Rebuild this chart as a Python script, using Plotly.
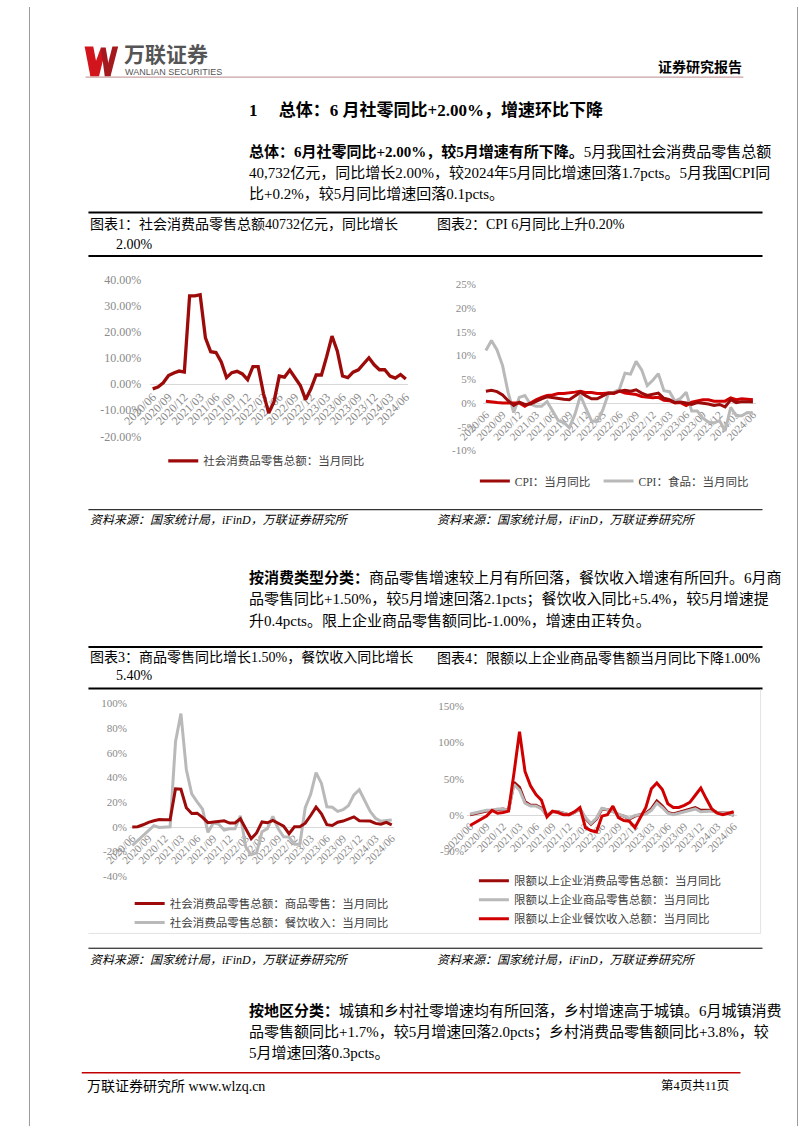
import plotly.graph_objects as go

W, H = 802, 1133
def px(x): return x / W
def py(y): return 1 - y / H

# ---------------- data ----------------
months = ["2020/06","2020/07","2020/08","2020/09","2020/10","2020/11","2020/12",
          "2021/01","2021/02","2021/03","2021/04","2021/05","2021/06","2021/07","2021/08","2021/09","2021/10","2021/11","2021/12",
          "2022/01","2022/02","2022/03","2022/04","2022/05","2022/06","2022/07","2022/08","2022/09","2022/10","2022/11","2022/12",
          "2023/01","2023/02","2023/03","2023/04","2023/05","2023/06","2023/07","2023/08","2023/09","2023/10","2023/11","2023/12",
          "2024/01","2024/02","2024/03","2024/04","2024/05","2024/06"]
tick_months = ["2020/06","2020/09","2020/12","2021/03","2021/06","2021/09","2021/12","2022/03","2022/06",
               "2022/09","2022/12","2023/03","2023/06","2023/09","2023/12","2024/03","2024/06"]

retail_total = [-1.8, -1.1, 0.5, 3.3, 4.3, 5.0, 4.6,
                33.8, 33.8, 34.2, 17.7, 12.4, 12.1, 8.5, 2.5, 4.4, 4.9, 3.9, 1.7,
                6.7, 6.7, -3.5, -11.1, -6.7, 3.1, 2.7, 5.4, 2.5, -0.5, -5.9, -1.8,
                3.5, 3.5, 10.6, 18.4, 12.7, 3.1, 2.5, 4.6, 5.5, 7.6, 10.1, 7.4,
                5.5, 5.5, 3.1, 2.3, 3.7, 2.0]

cpi_all = [2.5, 2.7, 2.4, 1.7, 0.5, -0.5, 0.2,
           -0.3, -0.2, 0.4, 0.9, 1.3, 1.1, 1.0, 0.8, 0.7, 1.5, 2.3, 1.5,
           0.9, 0.9, 1.5, 2.1, 2.1, 2.5, 2.7, 2.5, 2.8, 2.1, 1.6, 1.8,
           2.1, 1.0, 0.7, 0.1, 0.2, 0.0, -0.3, 0.1, 0.0, -0.2, -0.5, -0.3,
           -0.8, 0.7, 0.1, 0.3, 0.3, 0.2]
cpi_food = [11.1, 13.2, 11.2, 7.9, 2.2, -2.0, 1.2,
            1.6, -0.2, -0.7, -0.7, 0.3, -1.7, -3.7, -4.1, -5.2, -2.4, 1.6, -1.2,
            -3.8, -3.9, -1.5, 1.9, 2.3, 2.9, 6.3, 6.1, 8.8, 7.0, 3.7, 4.8,
            6.2, 2.6, 2.4, 0.4, 1.0, 2.3, -1.7, -1.7, -3.2, -4.0, -4.2, -3.7,
            -5.9, -0.9, -2.7, -2.7, -2.0, -2.1]
cpi_nonfood = [0.4, 0.2, 0.1, 0.0, 0.0, 0.0, 0.0,
               -0.7, 0.0, 0.7, 1.2, 1.6, 1.7, 2.0, 2.0, 2.1, 2.3, 2.5, 2.2,
               2.2, 2.0, 2.0, 2.1, 2.0, 2.5, 2.1, 2.0, 1.8, 1.4, 1.2, 1.1,
               1.2, 0.6, 0.5, 0.0, 0.1, -0.5, 0.2, 0.5, 0.7, 0.7, 0.4, 0.4,
               0.4, 1.1, 0.7, 0.9, 0.8, 0.7]

goods_retail = [-0.2, 0.0, 1.6, 3.6, 4.8, 5.8, 5.6,
                5.6, 30.7, 30.4, 15.4, 10.8, 11.0, 7.6, 3.3, 4.0, 4.6, 4.8, 3.0,
                3.0, 6.5, -1.7, -9.7, -5.0, 3.9, 3.2, 5.1, 2.8, 0.5, -5.6, 0.0,
                0.0, 2.9, 9.1, 15.9, 10.5, 1.7, 1.0, 3.7, 4.6, 6.5, 8.0, 4.8,
                4.7, 4.6, 2.7, 2.0, 3.6, 1.5]
catering = [-15.2, -11.0, -7.0, -2.9, 0.8, -0.6, 0.0,
            0.0, 68.9, 91.6, 46.4, 26.6, 20.2, 14.3, -4.5, 3.1, 2.0, -2.7, -1.6,
            -1.6, 8.9, -16.4, -22.7, -21.1, -4.0, -1.5, 8.4, -1.7, -8.1, -8.4, -14.1,
            -14.1, 15.4, 26.3, 43.8, 35.1, 16.1, 15.8, 12.4, 13.8, 17.1, 25.8, 30.0,
            21.0, 12.5, 6.9, 4.4, 5.0, 5.4]

above_total = [0, 2, 4, 5, 6, 7, 8,
               6, 45, 38, 18, 13, 13, 9, -1, 4, 4, 2, 0,
               3, 8, -5, -13, -6, 8, 7, 5, 0, -2, -6, -2,
               0, 2, 8, 19, 12, 3, 1, 3, 5, 8, 10, 6,
               6, 6, 3, 2, 2, -1]
above_goods = [1, 3, 5, 6, 6, 8, 8,
               6, 42, 34, 16, 12, 12, 8, 0, 4, 4, 2, 0,
               3, 8, -4, -12, -5, 9, 7, 4, 1, -1, -5, -1,
               0, 1, 6, 16, 10, 2, 0, 2, 4, 7, 8, 4,
               5, 5, 3, 2, 2, -1]
above_catering = [-15, -11, -6, -2, 6, 2, 3,
                  5, 58, 115, 60, 40, 28, 20, -3, 5, 3, 0, 0,
                  4, 10, -18, -22, -24, -2, 0, 12, -4, -8, -9, -18,
                  -5, 10, 36, 44, 35, 15, 10, 10, 13, 17, 27, 37,
                  22, 8, 2, 0, 2, 4]

y1_vals = [-20, -10, 0, 10, 20, 30, 40]
y1_text = ["-20.00%", "-10.00%", "0.00%", "10.00%", "20.00%", "30.00%", "40.00%"]
y2_vals = [-10, -5, 0, 5, 10, 15, 20, 25]
y2_text = ["-10%", "-5%", "0%", "5%", "10%", "15%", "20%", "25%"]
y3_vals = [-40, -20, 0, 20, 40, 60, 80, 100]
y3_text = ["-40%", "-20%", "0%", "20%", "40%", "60%", "80%", "100%"]
y4_vals = [-50, 0, 50, 100, 150]
y4_text = ["-50%", "0%", "50%", "100%", "150%"]

# ---------------- styles ----------------
DARK = "#9c0a0a"
RED = "#d10000"
GRAY = "#b9b9b9"
TICK = "#8a8a8a"
SERIF = "Liberation Serif, Noto Sans CJK SC"
BODY = "Liberation Serif, Noto Sans CJK SC"
CJK = "Noto Sans CJK SC"

fig = go.Figure()

# Chart 1
fig.add_trace(go.Scatter(x=months, y=retail_total, mode="lines", name="社会消费品零售总额：当月同比",
                         line=dict(color=DARK, width=3.3), xaxis="x", yaxis="y", legend="legend"))
# Chart 2
fig.add_trace(go.Scatter(x=months, y=cpi_food, mode="lines", name="CPI：食品：当月同比",
                         line=dict(color=GRAY, width=3), xaxis="x2", yaxis="y2", legend="legend3"))
fig.add_trace(go.Scatter(x=months, y=cpi_nonfood, mode="lines", name="CPI：非食品：当月同比", showlegend=False,
                         line=dict(color=RED, width=3), xaxis="x2", yaxis="y2"))
fig.add_trace(go.Scatter(x=months, y=cpi_all, mode="lines", name="CPI：当月同比",
                         line=dict(color=DARK, width=3), xaxis="x2", yaxis="y2", legend="legend2"))
# Chart 3
fig.add_trace(go.Scatter(x=months, y=catering, mode="lines", name="社会消费品零售总额：餐饮收入：当月同比",
                         line=dict(color=GRAY, width=3), xaxis="x3", yaxis="y3", legend="legend4",
                         legendrank=2, legendgroup="c3b"))
fig.add_trace(go.Scatter(x=months, y=goods_retail, mode="lines", name="社会消费品零售总额：商品零售：当月同比",
                         line=dict(color=DARK, width=3), xaxis="x3", yaxis="y3", legend="legend4",
                         legendrank=1, legendgroup="c3a"))
# Chart 4
fig.add_trace(go.Scatter(x=months, y=above_total, mode="lines", name="限额以上企业消费品零售总额：当月同比",
                         line=dict(color=DARK, width=3), xaxis="x4", yaxis="y4", legend="legend5",
                         legendrank=1, legendgroup="c4a"))
fig.add_trace(go.Scatter(x=months, y=above_goods, mode="lines", name="限额以上企业商品零售总额：当月同比",
                         line=dict(color=GRAY, width=3), xaxis="x4", yaxis="y4", legend="legend5",
                         legendrank=2, legendgroup="c4b"))
fig.add_trace(go.Scatter(x=months, y=above_catering, mode="lines", name="限额以上企业餐饮收入总额：当月同比",
                         line=dict(color=RED, width=3), xaxis="x4", yaxis="y4", legend="legend5",
                         legendrank=3, legendgroup="c4c"))


def xaxis(first, last, zero_y, size):
    step = (last - first) / 48
    return dict(type="category", domain=[px(first - step / 2), px(last + step / 2)], range=[-0.5, 48.5],
                anchor="free", position=py(zero_y), showline=True, linecolor="#d9d9d9", linewidth=1,
                showgrid=False, zeroline=False, ticks="", tickmode="array", tickvals=tick_months,
                ticktext=tick_months, tickangle=-45, tickfont=dict(family=SERIF, size=size, color=TICK),
                layer="below traces", fixedrange=True)


def yaxis(bottom, top, rng, vals, text, label_right, size):
    return dict(domain=[py(bottom), py(top)], range=rng, tickmode="array", tickvals=vals, ticktext=text,
                anchor="free", position=px(label_right + 3), side="left", showline=False, showgrid=False,
                zeroline=False, ticks="", tickfont=dict(family=SERIF, size=size, color=TICK), fixedrange=True)


LEGF = dict(family=BODY, size=11.5, color="#404040")
NOBG = "rgba(0,0,0,0)"

fig.update_layout(
    width=W, height=H, autosize=False, margin=dict(l=0, r=0, t=0, b=0),
    paper_bgcolor="white", plot_bgcolor=NOBG, showlegend=True,
    xaxis=xaxis(129, 393, 382, 12),
    yaxis=yaxis(434.8, 276, [-20, 40], y1_vals, y1_text, 114, 12),
    xaxis2=xaxis(476.5, 755, 401, 11),
    yaxis2=yaxis(449, 281, [-10, 25], y2_vals, y2_text, 463, 11),
    xaxis3=xaxis(107.7, 378.3, 830, 11),
    yaxis3=yaxis(880, 705, [-40, 100], y3_vals, y3_text, 99, 11),
    xaxis4=xaxis(460, 735, 817.8, 11),
    yaxis4=yaxis(854.3, 708.3, [-50, 150], y4_vals, y4_text, 450.5, 11),
    legend=dict(x=px(140), y=py(459.5), xanchor="left", yanchor="middle", orientation="h",
                bgcolor=NOBG, font=LEGF, itemwidth=30),
    legend2=dict(x=px(465), y=py(480), xanchor="left", yanchor="middle", orientation="h",
                 bgcolor=NOBG, font=LEGF, itemwidth=30),
    legend3=dict(x=px(594), y=py(480), xanchor="left", yanchor="middle", orientation="h",
                 bgcolor=NOBG, font=LEGF, itemwidth=30),
    legend4=dict(x=px(105), y=py(893), xanchor="left", yanchor="top", orientation="v",
                 bgcolor=NOBG, font=LEGF, itemwidth=30, tracegroupgap=3, traceorder="normal"),
    legend5=dict(x=px(464), y=py(870), xanchor="left", yanchor="top", orientation="v",
                 bgcolor=NOBG, font=LEGF, itemwidth=30, tracegroupgap=1, traceorder="normal"),
)

# ---------------- page furniture ----------------
shapes = []
def hline(x0, x1, y, color, width):
    shapes.append(dict(type="line", xref="paper", yref="paper", x0=px(x0), x1=px(x1), y0=py(y), y1=py(y),
                       line=dict(color=color, width=width)))
def vline(x, y0, y1, color, width):
    shapes.append(dict(type="line", xref="paper", yref="paper", x0=px(x), x1=px(x), y0=py(y0), y1=py(y1),
                       line=dict(color=color, width=width)))
def poly(points, color):
    d = "M " + " L ".join(f"{px(a):.5f},{py(b):.5f}" for a, b in points) + " Z"
    shapes.append(dict(type="path", xref="paper", yref="paper", path=d, fillcolor=color,
                       line=dict(width=0)))

# page frame
vline(0.5, 0, H, "#9a9a9a", 1)
vline(801.5, 0, H, "#9a9a9a", 1)

# logo W
poly([(58, 40), (67, 40), (73, 70), (64, 70)], "#d2151d")
poly([(64, 70), (73, 70), (79, 47), (75, 41)], "#d2151d")
poly([(75, 41), (80, 41), (85, 70), (79, 70)], "#a3191d")
poly([(79, 70), (85, 70), (93, 40), (87, 40)], "#a3191d")

# header line
hline(59, 745, 71, "#c9a2a2", 1.2)

# chart boxes
hline(62, 765, 208, "#000000", 2)
hline(62, 765, 252, "#000000", 2)
hline(62, 765, 509, "#000000", 1)
hline(62, 765, 648, "#000000", 2)
hline(62, 765, 690, "#000000", 2)
hline(62, 765, 953, "#000000", 1)
# faint image border of charts 3/4
vline(763, 691, 938, "#e3e3e3", 1)
hline(62, 763, 938, "#e3e3e3", 1)

# footer
hline(55, 742, 1079, "#c00000", 1.5)

fig.update_layout(shapes=shapes)

ann = []
def txt(x, y, s, size, color="#000000", anchor="left", family=BODY):
    ann.append(dict(x=px(x), y=py(y), xref="paper", yref="paper", text=s, showarrow=False,
                    xanchor=anchor, yanchor="middle", font=dict(family=family, size=size, color=color)))

# header
txt(97, 47, "<b>万联证券</b>", 21, "#555555", family=CJK)
txt(98, 66, "WANLIAN SECURITIES", 9, "#555555", family="Liberation Sans Narrow, Liberation Sans")
txt(746, 61, "<b>证券研究报告</b>", 14, "#000000", anchor="right")

# section title
txt(227, 104, "<b>1\u3000 总体：6 月社零同比+2.00%，增速环比下降</b>", 17)

# paragraph 1
txt(227, 146, "<b>总体：6月社零同比+2.00%，较5月增速有所下降。</b>5月我国社会消费品零售总额", 15)
txt(227, 167.5, "40,732亿元，同比增长2.00%，较2024年5月同比增速回落1.7pcts。5月我国CPI同", 15)
txt(227, 189, "比+0.2%，较5月同比增速回落0.1pcts。", 15)

# chart titles 1/2
txt(62, 220, "图表1：社会消费品零售总额40732亿元，同比增长", 14)
txt(89, 240, "2.00%", 14)
txt(423, 220, "图表2：CPI 6月同比上升0.20%", 14)
txt(62, 519, "<i>资料来源：国家统计局，iFinD，万联证券研究所</i>", 12)
txt(423, 519, "<i>资料来源：国家统计局，iFinD，万联证券研究所</i>", 12)

# paragraph 2
txt(227, 578, "<b>按消费类型分类：</b>商品零售增速较上月有所回落，餐饮收入增速有所回升。6月商", 15)
txt(227, 599.5, "品零售同比+1.50%，较5月增速回落2.1pcts；餐饮收入同比+5.4%，较5月增速提", 15)
txt(227, 621, "升0.4pcts。限上企业商品零售额同比-1.00%，增速由正转负。", 15)

# chart titles 3/4
txt(62, 659, "图表3：商品零售同比增长1.50%，餐饮收入同比增长", 14)
txt(89, 677, "5.40%", 14)
txt(423, 659, "图表4：限额以上企业商品零售额当月同比下降1.00%", 14)
txt(62, 965, "<i>资料来源：国家统计局，iFinD，万联证券研究所</i>", 12)
txt(423, 965, "<i>资料来源：国家统计局，iFinD，万联证券研究所</i>", 12)

# paragraph 3
txt(227, 1016, "<b>按地区分类：</b>城镇和乡村社零增速均有所回落，乡村增速高于城镇。6月城镇消费", 15)
txt(227, 1037.5, "品零售额同比+1.7%，较5月增速回落2.0pcts；乡村消费品零售额同比+3.8%，较", 15)
txt(227, 1059, "5月增速回落0.3pcts。", 15)

# footer
txt(58, 1093, "万联证券研究所 www.wlzq.cn", 14)
txt(732, 1093, "第4页共11页", 12.5, anchor="right")

fig.update_layout(annotations=ann)

fig.write_html("out.html")
